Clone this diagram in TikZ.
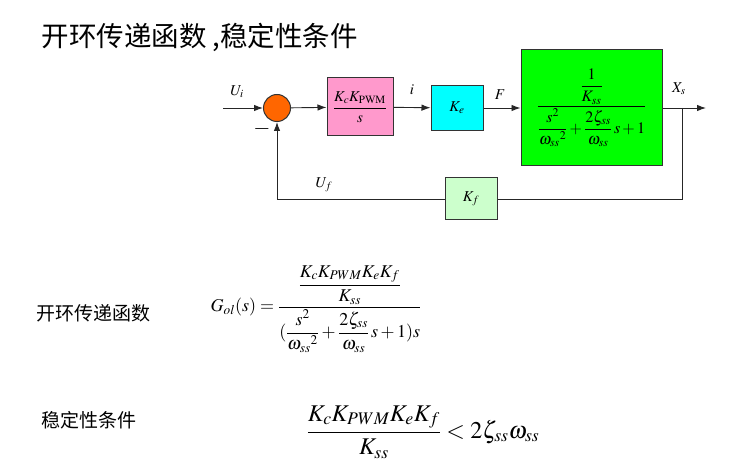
\documentclass[tikz,border=0pt]{standalone}
\usepackage{amsmath}
\usepackage{mathptmx}
\usepackage{fontspec}
\newfontfamily\cjk{Noto Sans CJK SC}
\usepackage{tikz}
\usetikzlibrary{arrows.meta}
\definecolor{sumorange}{HTML}{FF6600}
\definecolor{pwmpink}{HTML}{FF99CC}
\definecolor{kecyan}{HTML}{00FFFF}
\definecolor{plantgreen}{HTML}{00FF00}
\definecolor{kfgreen}{HTML}{CCFFCC}

\begin{document}
\begin{tikzpicture}[x=1pt, y=-1pt,
	blk/.style = {draw=black!80, line width=1pt, inner sep=0pt},
	sumnode/.style = {draw=black!80, circle, fill=sumorange, minimum size=27pt, inner sep=0pt, line width=1pt},
	sig/.style = {-{Latex[length=9pt,width=6.5pt]}, line width=0.9pt, draw=black!85},
	wire/.style = {line width=0.9pt, draw=black!85},
	lbl/.style = {inner sep=0pt, font=\fontsize{15}{17}\selectfont}]
					\useasboundingbox (0,0) rectangle (741,470);
					\node[anchor=west] (title) at (38,37) {\cjk\fontsize{27.5}{31}\selectfont 开环传递函数 ,稳定性条件};
					
					\coordinate (in) at (223,108);
					\node[sumnode] (sum) at (277,108) {};
					\node[blk, fill=pwmpink, minimum width=66pt, minimum height=58pt, font=\fontsize{15}{17}\selectfont] (pwm) at (360,107) {$\dfrac{K_cK_{\mathrm{PWM}}}{s}$};
					\node[blk, fill=kecyan, minimum width=52pt, minimum height=45pt, font=\fontsize{15}{17}\selectfont] (ke) at (457,108) {$K_e$};
					\node[blk, fill=plantgreen, minimum width=141pt, minimum height=116pt, font=\fontsize{16}{18}\selectfont] (plant) at (591.5,108) {$\dfrac{\dfrac{1}{K_{ss}}}{\dfrac{s^2}{\omega_{ss}{}^2}+\dfrac{2\zeta_{ss}}{\omega_{ss}}\,s+1}$};
					\node[blk, fill=kfgreen, minimum width=52pt, minimum height=42pt, font=\fontsize{15}{17}\selectfont] (kf) at (471,199) {$K_f$};
					\coordinate (br) at (682,108);
					\coordinate (out) at (706,108);
					
					\node[lbl] (ui) at (237,92) {$U_i$};
					\node[lbl, font=\fontsize{22}{24}\selectfont\bfseries] (minus) at (262,129) {$\boldsymbol{-}$};
					\node[lbl] (ilbl) at (412,90) {$i$};
					\node[lbl] (flbl) at (500,95) {$F$};
					\node[lbl] (xs) at (679,89) {$X_s$};
					\node[lbl] (uf) at (324,185) {$U_f$};
					
					\draw[sig] (in) -- (sum);
					\draw[sig] (sum) -- (pwm);
					\draw[sig] (pwm) -- (ke);
					\draw[sig] (ke) -- (plant);
					\draw[sig] (plant) -- (out);
					\draw[wire] (br) |- (kf);
					\draw[sig] (kf) -| (sum);
					
					\node[anchor=west] (olt) at (33,313) {\cjk\fontsize{19}{22}\selectfont 开环传递函数};
					\node (gol) at (316,309) {\fontsize{18}{21}\selectfont$G_{ol}(s)=\dfrac{\dfrac{K_cK_{PWM}K_eK_f}{K_{ss}}}{(\dfrac{s^2}{\omega_{ss}{}^2}+\dfrac{2\zeta_{ss}}{\omega_{ss}}\,s+1)s}$};
					\node[anchor=west] (stt) at (38,420) {\cjk\fontsize{19}{22}\selectfont 稳定性条件};
					\node (cond) at (423,432) {\fontsize{24}{28}\selectfont$\dfrac{K_cK_{PWM}K_eK_f}{K_{ss}}<2\zeta_{ss}\omega_{ss}$};
				\end{tikzpicture}
\end{document}
